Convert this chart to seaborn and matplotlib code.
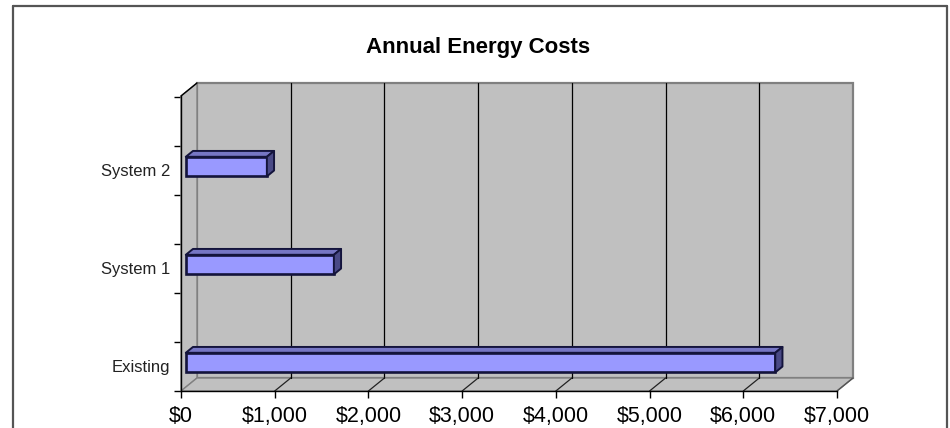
import numpy as np
import pandas as pd
import matplotlib
matplotlib.use("Agg")
import matplotlib.pyplot as plt
import seaborn as sns
from matplotlib.patches import Polygon
from matplotlib.transforms import IdentityTransform, ScaledTranslation
from matplotlib.lines import Line2D

# ---------------- data ----------------
categories = ["Existing", "System 1", "System 2"]
annual_costs = [6290, 1580, 865]
x_ticks = [0, 1000, 2000, 3000, 4000, 5000, 6000, 7000]
x_tick_labels = ["$0", "$1,000", "$2,000", "$3,000", "$4,000", "$5,000", "$6,000", "$7,000"]
chart_title = "Annual Energy Costs"

# ---------------- layout ----------------
W, H, DPI = 950, 428, 100
sns.set_style("white")
plt.rcParams["font.family"] = ["Liberation Sans", "DejaVu Sans"]

fig = plt.figure(figsize=(W / DPI, H / DPI), dpi=DPI)
fig.patch.set_facecolor("white")
ax = fig.add_axes([181 / W, (H - 391) / H, (837 - 181) / W, (391 - 96) / H])
ax.patch.set_alpha(0)

BAR_EDGE = "#14143C"
df = pd.DataFrame({"category": categories, "cost": annual_costs})
order = categories[::-1]
sns.barplot(data=df, x="cost", y="category", order=order, orient="h",
            width=0.2, color="#9999FF", edgecolor=BAR_EDGE, linewidth=1.9,
            saturation=1, ax=ax, zorder=5)

Y_BOT, Y_TOP = 2.25, -0.76
ax.set_xlim(0, 7000)
ax.set_ylim(Y_BOT, Y_TOP)

DEPTH = np.array([16.0, 13.0])      # full 3D depth, pixels (display, y up)
FRONT = 0.3 * DEPTH                 # bar front face offset
BACK = 0.75 * DEPTH                 # bar back face offset
GRAY = "#C0C0C0"
EDGE = "#808080"


def px(x, y):
    return ax.transData.transform((x, y))


def poly(points, **kw):
    p = Polygon(np.array(points), closed=True, transform=IdentityTransform(),
                clip_on=False, **kw)
    ax.add_artist(p)
    return p


def line(p0, p1, **kw):
    l = Line2D([p0[0], p1[0]], [p0[1], p1[1]], transform=IdentityTransform(),
               clip_on=False, **kw)
    ax.add_artist(l)
    return l


xmin, xmax = x_ticks[0], x_ticks[-1]
fbl, ftl, fbr = px(xmin, Y_BOT), px(xmin, Y_TOP), px(xmax, Y_BOT)
ftr = px(xmax, Y_TOP)

# back wall, side wall, floor
poly([fbl + DEPTH, fbr + DEPTH, ftr + DEPTH, ftl + DEPTH], facecolor=GRAY,
     edgecolor=EDGE, linewidth=1.6, zorder=0.5)
poly([fbl, ftl, ftl + DEPTH, fbl + DEPTH], facecolor=GRAY, edgecolor=EDGE,
     linewidth=1.0, zorder=0.6)
poly([fbl, fbr, fbr + DEPTH, fbl + DEPTH], facecolor=GRAY, edgecolor=EDGE,
     linewidth=1.0, zorder=0.6)

# gridlines on back wall and floor
for xv in x_ticks[1:-1]:
    line(px(xv, Y_BOT) + DEPTH, px(xv, Y_TOP) + DEPTH, color="black", linewidth=0.9, zorder=0.8)
for xv in x_ticks[1:-1]:
    line(px(xv, Y_BOT), px(xv, Y_BOT) + DEPTH, color="#222222", linewidth=0.9, zorder=0.8)
line(fbr, fbr + DEPTH, color="#555555", linewidth=1.0, zorder=0.8)
line(ftl, ftl + DEPTH, color="black", linewidth=1.0, zorder=0.8)

# 3D bars: shift front faces, add top and right faces
shift = ScaledTranslation(FRONT[0] / DPI, FRONT[1] / DPI, fig.dpi_scale_trans)
for p in list(ax.patches):
    if not hasattr(p, "get_width"):
        continue
    x0, y0, w, h = p.get_x(), p.get_y(), p.get_width(), p.get_height()
    corners = np.array([px(x0, y0), px(x0 + w, y0 + h)])
    left, right = corners[:, 0].min(), corners[:, 0].max()
    bottom, top = corners[:, 1].min(), corners[:, 1].max()
    p.set_transform(ax.transData + shift)
    p.set_clip_on(False)
    p.set_zorder(5)
    tl = np.array([left, top]) + FRONT
    tr = np.array([right, top]) + FRONT
    br = np.array([right, bottom]) + FRONT
    d = BACK - FRONT
    poly([tl, tr, tr + d, tl + d], facecolor="#7676C4", edgecolor=BAR_EDGE,
         linewidth=1.4, zorder=6, joinstyle="round")
    poly([tr, br, br + d, tr + d], facecolor="#4A4A86", edgecolor=BAR_EDGE,
         linewidth=1.4, zorder=6, joinstyle="round")

# axes styling
for s in ["top", "right"]:
    ax.spines[s].set_visible(False)
for s in ["left", "bottom"]:
    ax.spines[s].set_color("black")
    ax.spines[s].set_linewidth(1.0)
    ax.spines[s].set_zorder(0.9)

ax.set_xticks(x_ticks)
ax.set_xticklabels(x_tick_labels, fontsize=15.5, color="black")
ax.tick_params(axis="x", bottom=True, length=5, width=1, color="black", pad=6, direction="out")
ax.set_yticks(range(len(order)))
ax.set_yticklabels(order, fontsize=12, color="#222222")
ax.tick_params(axis="y", which="major", left=True, length=0, pad=8)
ax.set_yticks(np.arange(Y_BOT, Y_TOP - 0.01, -0.5), minor=True)
ax.tick_params(axis="y", which="minor", left=True, length=5, width=1, color="black", direction="out")
ax.set_xlabel("")
ax.set_ylabel("")
ax.grid(False)

# title
fig.text(478 / W, 1 - 47 / H, chart_title, ha="center", va="center",
         fontsize=16, fontweight="bold", color="black")

# outer frame (bottom cut off)
frame_kw = dict(transform=IdentityTransform(), color="#555555", linewidth=1.6)
fig.add_artist(Line2D([13, 13], [0, H - 6], **frame_kw))
fig.add_artist(Line2D([13, 947], [H - 6, H - 6], **frame_kw))
fig.add_artist(Line2D([947, 947], [0, H - 6], **frame_kw))

fig.savefig("out.png", dpi=DPI)
